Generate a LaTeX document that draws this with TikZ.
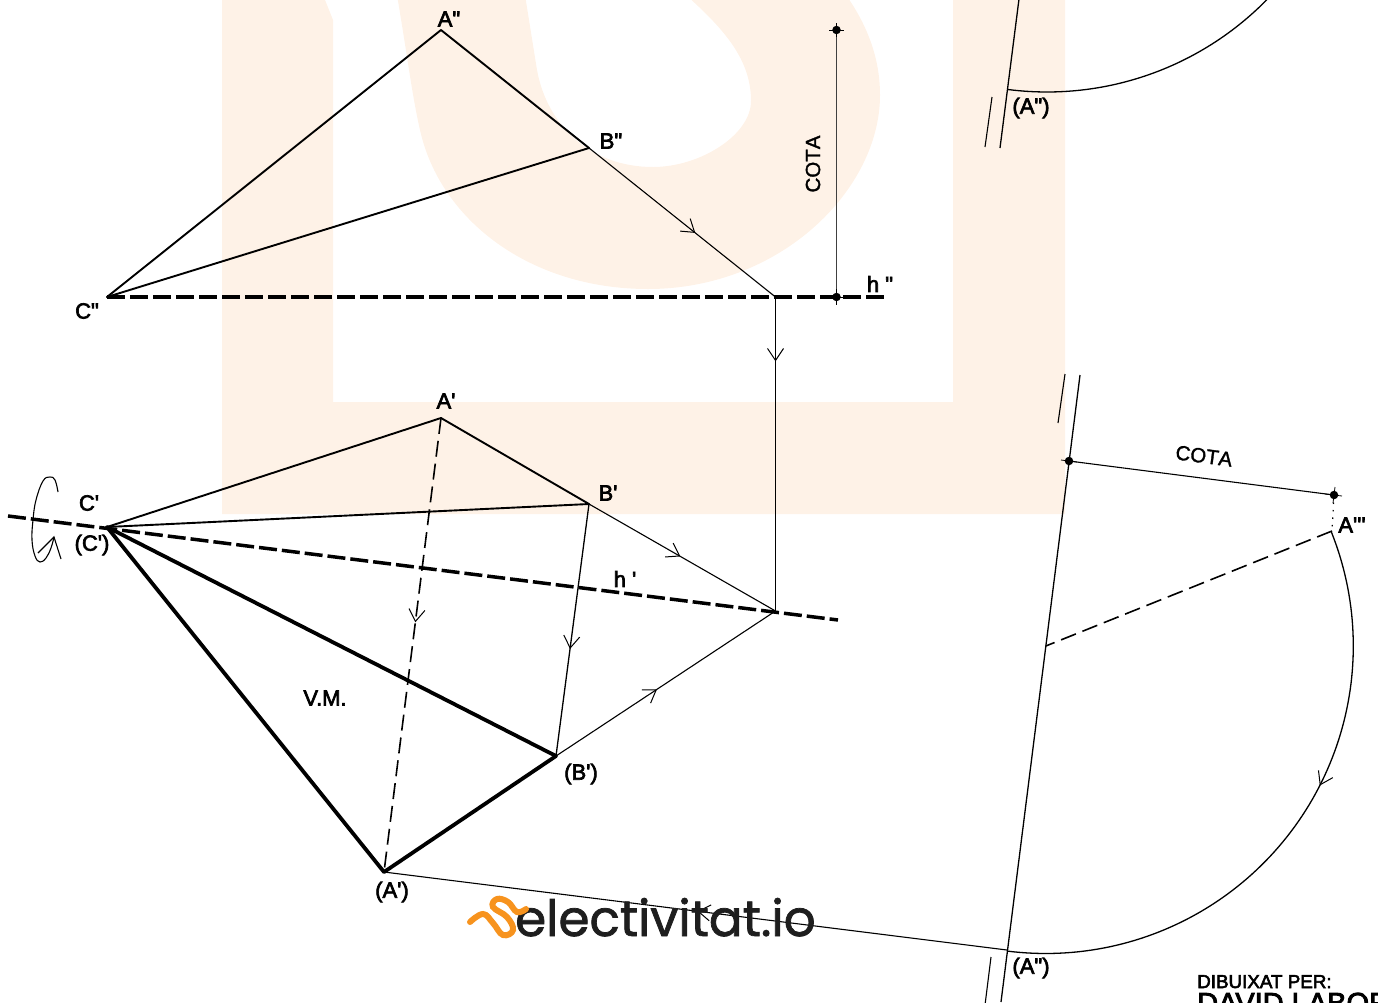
\documentclass[tikz,border=0pt]{standalone}
\usepackage{fontspec}
\setmainfont{Liberation Sans}
\newfontfamily\labfont[FakeBold=3]{Liberation Sans}
\newfontfamily\cotafont[Kerning=Off,FakeBold=1.5]{Liberation Sans}
\newfontfamily\logofont[FakeBold=1.5]{Poppins}
\usetikzlibrary{arrows.meta,decorations.markings}
\definecolor{wm}{HTML}{FEF2E7}
\definecolor{logoorange}{HTML}{F7931E}
\definecolor{logodark}{HTML}{1E1E1E}
\tikzset{
  lab/.style={inner sep=0pt,font=\labfont\fontsize{22}{24}\selectfont},
  plain/.style={inner sep=0pt,font=\cotafont\fontsize{20.5}{24}\selectfont},
  edgeline/.style={line width=1.9pt,line cap=round},
  heavy/.style={line width=3.8pt,line cap=round},
  thin line/.style={line width=1.1pt},
  axisdash/.style={line width=3.9pt,dash pattern=on 18pt off 5pt},
  halfdash/.style={line width=1.6pt,dash pattern=on 16pt off 7pt},
  barb/.style={postaction={decorate,decoration={markings,mark=at position #1 with {\arrow{Straight Barb[length=12pt,width=16pt,line width=1pt]}}}}},
  dotmark/.style={circle,fill=black,inner sep=0pt,minimum size=8.5pt},
}
\begin{document}
\begin{tikzpicture}[x=1pt,y=-1pt]
\useasboundingbox (0,0) rectangle (1378,1002);
\clip (0,0) rectangle (1378,1002);
% watermark
\fill[wm] (222,-5) -- (222,514) -- (1065,514) -- (1065,-5) -- (953,-5) -- (953,402) -- (333,402) -- (333,20) -- (323,-5) -- cycle;
\fill[wm] (397,-5) .. controls (408,60) and (412,95) .. (420,130) .. controls (440,220) and (530,289) .. (648,289)
  .. controls (780,289) and (880,190) .. (880,95) .. controls (880,55) and (865,22) .. (846,-5)
  -- (686,-5) .. controls (725,30) and (751,60) .. (751,101) .. controls (751,135) and (700,167) .. (653,167)
  .. controls (590,167) and (547,125) .. (537,70) -- (525,-5) -- cycle;
% points
\coordinate (A2) at (441,30);
\coordinate (B2) at (589,148);
\coordinate (C2) at (107,297);
\coordinate (H2) at (888,297);
\coordinate (J2) at (775.5,297);
\coordinate (J1) at (775.5,611);
\coordinate (A1) at (441,418);
\coordinate (B1) at (589,504);
\coordinate (C1) at (107,527);
\coordinate (Hs) at (8,516);
\coordinate (He) at (838,620);
\coordinate (Br) at (556,756);
\coordinate (Ar) at (384,872);
\coordinate (Ae) at (1007,950);
\coordinate (Atri) at (1332,531);
\coordinate (Hinge) at (1045.8,646);
\coordinate (Ca) at (836.5,30);
\coordinate (Cb) at (836.5,297);
\coordinate (Cc) at (1069,461);
\coordinate (Cd) at (1334,495);
\coordinate (Ax1) at (1080,375);
\coordinate (Ax2) at (1001,1002);
\coordinate (Ay1) at (1019,-1);
\coordinate (Ay2) at (1000,148);
\coordinate (T1) at (1065,374);
\coordinate (T2) at (1058,423);
\coordinate (T3) at (991,957);
\coordinate (T4) at (985,1005);
\coordinate (T5) at (992,97);
\coordinate (T6) at (985,147);
% triangles
\draw[edgeline] (A2) -- (B2);
\draw[edgeline] (A2) -- (C2);
\draw[edgeline] (B2) -- (C2);
\draw[edgeline] (A1) -- (B1);
\draw[edgeline] (A1) -- (C1);
\draw[edgeline] (B1) -- (C1);
\draw[heavy] (C1) -- (Br);
\draw[heavy] (C1) -- (Ar);
\draw[heavy] (Ar) -- (Br);
% horizontals
\draw[axisdash] (C2) -- (H2);
\draw[axisdash,line width=3.5pt] (Hs) -- (He);
% construction lines
\draw[thin line,barb=0.57] (B2) -- (J2);
\draw[thin line,barb=0.205] (J2) -- (J1);
\draw[thin line,barb=0.49] (B1) -- (J1);
\draw[thin line,barb=0.46] (Br) -- (J1);
\draw[thin line,line width=1.3pt,barb=0.575] (B1) -- (Br);
\draw[halfdash,barb=0.45] (A1) -- (Ar);
\draw[thin line,barb=0.497] (Ae) -- (Ar);
\draw[halfdash] (Atri) -- (Hinge);
\draw[thin line,line width=1.3pt,barb=0.41] plot[domain=-21.8:97.2,samples=100] ({1045.8+307.5*cos(\x)},{646+307.5*sin(\x)});
\draw[thin line,line width=1.3pt] plot[domain=97.3:43,samples=60] ({1047+308*cos(\x)},{-216+308*sin(\x)});
% axes
\draw[thin line,line width=1.3pt] (Ax1) -- (Ax2);
\draw[thin line,line width=1.3pt] (Ay1) -- (Ay2);
\draw[thin line] (T1) -- (T2);
\draw[thin line] (T3) -- (T4);
\draw[thin line] (T5) -- (T6);
% cotas
\draw[line width=1pt,black!75] (Ca) -- (Cb);
\draw[thin line] (Cc) -- (Cd);
\draw[line width=1.2pt,dash pattern=on 1.5pt off 6pt] (Cd) -- (Atri);
\node[dotmark] (da) at (Ca) {};
\node[dotmark] (db) at (Cb) {};
\node[dotmark] (dc) at (Cc) {};
\node[dotmark] (dd) at (Cd) {};
\draw[line width=.8pt] (829,30) -- (844,30) (836.5,23) -- (836.5,37);
\draw[line width=.8pt] (829,297) -- (844,297) (836.5,289) -- (836.5,305);
\draw[line width=.8pt] (1061,460) -- (1077,462);
\draw[line width=.8pt] (1325,494) -- (1342,496) (1335,487) -- (1333,503);
% rotation symbol
\draw[line width=1.1pt] plot[smooth,tension=0.7] coordinates {(58,492)(55,480)(50,477)(43,481)(36,500)(33,520)(32,540)(35,556)(40,562)(46,558)(51,548)(54,537)};
\draw[line width=1.1pt] (38,553) -- (54,537) -- (61,559);
% labels
\node[lab] (lA2) at (449,19) {A"};
\node[lab] (lB2) at (611,141) {B"};
\node[lab] (lC2) at (87,311) {C"};
\node[lab] (lh2) at (880,284) {h "};
\node[lab] (lA1) at (446,401) {A'};
\node[lab] (lB1) at (608,493) {B'};
\node[lab] (lC1) at (89,503) {C'};
\node[lab] (lCr) at (92,545) {(C')};
\node[lab] (lh1) at (625,579) {h '};
\node[lab] (lVM) at (325,698) {V.M.};
\node[lab] (lBr) at (581,774) {(B')};
\node[lab] (lAr) at (392,892) {(A')};
\node[lab] (lAt) at (1031,108) {(A")};
\node[lab] (lAb) at (1031,968) {(A")};
\node[lab] (lA3) at (1352,525) {A'''};
\node[plain,rotate=90] (lc1) at (813,164) {COTA};
\node[plain,rotate=-7.5] (lc2) at (1204,456) {COTA};
\node[inner sep=0pt,anchor=base west,font=\labfont\fontsize{18.8}{20}\selectfont] (dib) at (1197,988) {DIBUIXAT PER:};
\node[inner sep=0pt,anchor=base west,font=\labfont\fontsize{29}{30}\selectfont] (dav) at (1197,1013) {DAVID LABOR};
% logo
\node[inner sep=0pt,anchor=base west,text=logodark,font=\logofont\fontsize{50}{52}\selectfont] (logo) at (515,936) {electivitat.io};
\draw[logoorange,line width=6pt,line cap=round] plot[smooth,tension=0.7] coordinates {(470,922)(483,914)(493,923)(503,935)(513,930)(507,917)(493,907)(497,899)(508,902)(517,912)(526,909)};
\end{tikzpicture}
\end{document}
